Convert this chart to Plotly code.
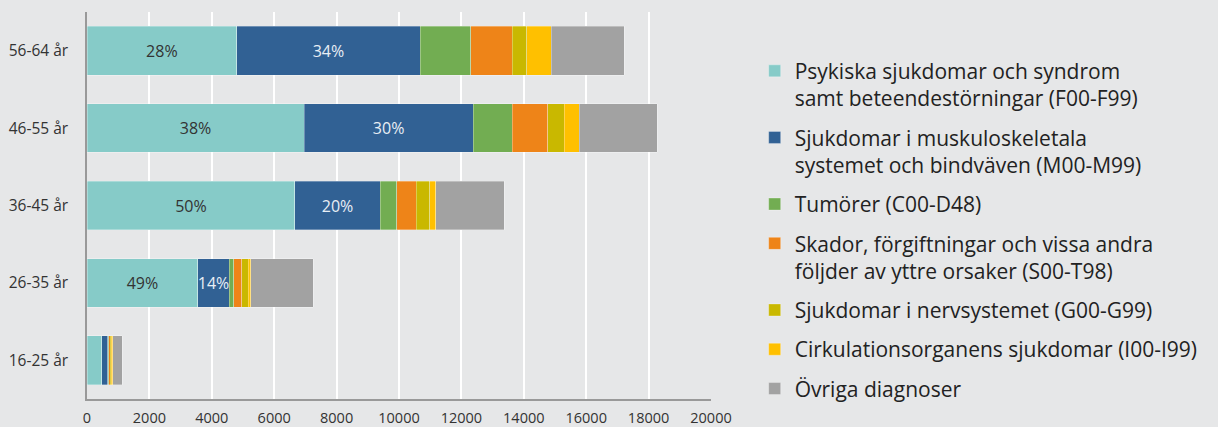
import plotly.graph_objects as go

categories = ["16-25 år", "26-35 år", "36-45 år", "46-55 år", "56-64 år"]

series_names = [
    "Psykiska sjukdomar och syndrom<br>samt beteendestörningar (F00-F99)",
    "Sjukdomar i muskuloskeletala<br>systemet och bindväven (M00-M99)",
    "Tumörer (C00-D48)",
    "Skador, förgiftningar och vissa andra<br>följder av yttre orsaker (S00-T98)",
    "Sjukdomar i nervsystemet (G00-G99)",
    "Cirkulationsorganens sjukdomar (I00-I99)",
    "Övriga diagnoser",
]

psykiska = [480, 3555, 6665, 6960, 4800]
muskulo = [192, 1003, 2730, 5415, 5880]
tumorer = [30, 150, 540, 1250, 1620]
skador = [50, 256, 612, 1135, 1325]
nerv = [25, 203, 442, 540, 465]
cirk = [45, 75, 183, 478, 785]
ovriga = [310, 2017, 2205, 2500, 2340]

psyk_labels = ["", "49%", "50%", "38%", "28%"]
musk_labels = ["", "14%", "20%", "30%", "34%"]

values = [psykiska, muskulo, tumorer, skador, nerv, cirk, ovriga]
labels = [psyk_labels, musk_labels, None, None, None, None, None]
colors = ["#86cbc8", "#316194", "#72ad52", "#ee8418", "#c9b800", "#ffc000", "#a2a2a2"]
text_colors = ["#333333", "#e8eef5"]

fig = go.Figure()
for i, (name, vals, col) in enumerate(zip(series_names, values, colors)):
    kw = {}
    if labels[i] is not None:
        kw = dict(text=labels[i], textposition="inside", insidetextanchor="middle",
                  textangle=0, constraintext="none",
                  textfont=dict(size=16, color=text_colors[i], family="Open Sans"))
    fig.add_trace(go.Bar(
        y=categories, x=vals, name=name, orientation="h",
        marker=dict(color=col, line=dict(width=0.6, color="rgba(255,255,255,0.5)")),
        legendgroup=f"g{i}",
        hoverinfo="x+name",
        **kw,
    ))

fig.update_layout(
    barmode="stack",
    bargap=0.37,
    width=1218, height=427,
    margin=dict(l=87, r=507, t=12, b=28, autoexpand=False),
    paper_bgcolor="#e6e7e8",
    plot_bgcolor="#e6e7e8",
    font=dict(family="Open Sans", color="#333333"),
    uniformtext=dict(minsize=16, mode="show"),
    legend=dict(
        x=1.07, xanchor="left", y=0.9, yanchor="top",
        font=dict(size=21, color="#222222"),
        valign="top",
        tracegroupgap=9,
        traceorder="grouped",
        bgcolor="rgba(0,0,0,0)",
    ),
    xaxis=dict(
        range=[0, 20000], dtick=2000, tickformat="d", showgrid=True, gridcolor="#ffffff", gridwidth=2,
        showline=True, linecolor="#999999", linewidth=1.5, zeroline=False,
        tickfont=dict(size=14.5, color="#333333"), ticks="", ticklabelstandoff=5,
        automargin=False,
    ),
    yaxis=dict(
        categoryorder="array", categoryarray=categories,
        showline=True, linecolor="#999999", linewidth=1.5, showgrid=False,
        tickfont=dict(size=15.5, color="#333333"), ticks="", ticklabelstandoff=14,
        automargin=False,
    ),
)

fig.write_html(
    "out.html",
    config={"displayModeBar": False},
    post_script="document.body.style.margin='0';document.body.style.background='#e6e7e8';",
)
